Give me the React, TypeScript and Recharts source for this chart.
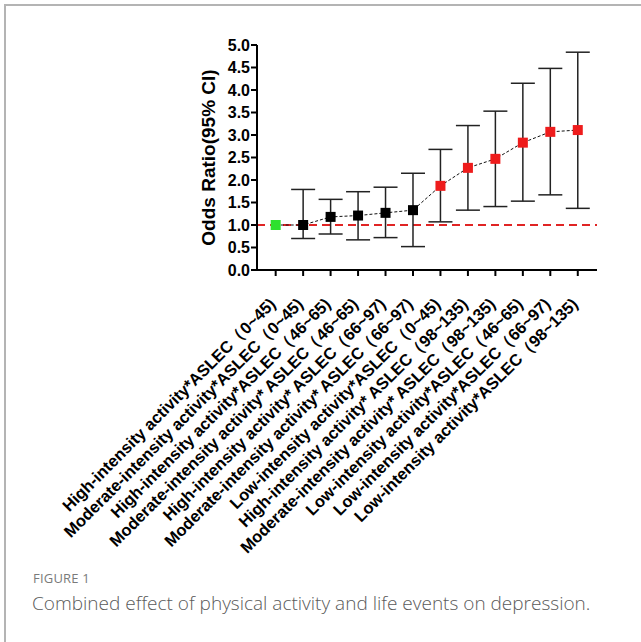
import React from "react"
import {
  ComposedChart,
  ErrorBar,
  Label,
  Line,
  ReferenceLine,
  XAxis,
  YAxis,
} from "recharts"

// groups in the order they appear on the x axis
const labels = [
  "High-intensity activity*ASLEC（0~45)",
  "Moderate-intensity activity*ASLEC（0~45)",
  "High-intensity activity*ASLEC（46~65)",
  "Moderate-intensity activity* ASLEC（46~65)",
  "High-intensity activity* ASLEC（66~97)",
  "Moderate-intensity activity* ASLEC（66~97)",
  "Low-intensity activity*ASLEC（0~45)",
  "High-intensity activity* ASLEC（98~135)",
  "Moderate-intensity activity* ASLEC（98~135)",
  "Low-intensity activity*ASLEC（46~65)",
  "Low-intensity activity*ASLEC（66~97)",
  "Low-intensity activity*ASLEC（98~135)",
]

const oddsRatio = [1.0, 1.0, 1.18, 1.21, 1.27, 1.33, 1.87, 2.27, 2.47, 2.83, 3.07, 3.11]
const ciLow = [null, 0.7, 0.8, 0.67, 0.72, 0.52, 1.07, 1.33, 1.41, 1.53, 1.67, 1.37]
const ciHigh = [null, 1.79, 1.57, 1.74, 1.84, 2.15, 2.68, 3.21, 3.53, 4.15, 4.48, 4.84]

const yTicks = [0, 0.5, 1, 1.5, 2, 2.5, 3, 3.5, 4, 4.5, 5]

const data = labels.map((label, i) => ({
  x: i,
  label,
  or: oddsRatio[i],
  err:
    ciLow[i] == null
      ? undefined
      : [oddsRatio[i] - (ciLow[i] as number), (ciHigh[i] as number) - oddsRatio[i]],
  lo: ciLow[i],
}))

// green = reference group, red = CI above 1, black = otherwise
const markerColor = (lo: number | null) => {
  if (lo == null) return "#2de12d"
  if (lo > 1) return "#ee1c1c"
  return "#000"
}

const XTick = ({ x, y, payload }: any) => (
  <text
    x={x + 1}
    y={y + 27}
    transform={`rotate(-45, ${x + 1}, ${y + 27})`}
    textAnchor="end"
    fontFamily="'Liberation Sans', Arial, sans-serif"
    fontWeight="bold"
    fontSize={16.5}
    fill="#000"
  >
    {labels[payload.value]}
  </text>
)

const Marker = (props: any) => {
  const { cx, cy, index, payload } = props
  return (
    <rect
      key={`m-${index}`}
      x={cx - 5}
      y={cy - 5}
      width={10}
      height={10}
      fill={markerColor(payload.lo)}
    />
  )
}

const YLabel = ({ viewBox }: any) => {
  const cx = viewBox.x + 28
  const cy = viewBox.y + viewBox.height / 2
  return (
    <text
      x={cx}
      y={cy}
      transform={`rotate(-90, ${cx}, ${cy})`}
      textAnchor="middle"
      dominantBaseline="central"
      fontFamily="'Liberation Sans', Arial, sans-serif"
      fontWeight="bold"
      fontSize={19}
      fill="#000"
    >
      Odds Ratio(95% CI)
    </text>
  )
}

export default function App() {
  return (
    <div
      style={{
        position: "absolute",
        left: 0,
        top: 0,
        width: 641,
        height: 642,
        background: "#fff",
        overflow: "hidden",
      }}
    >
      <div style={{ position: "absolute", left: 4, top: 4, right: 0, height: 2, background: "#b4b4b4" }} />
      <div style={{ position: "absolute", left: 4, top: 4, bottom: 0, width: 2, background: "#b4b4b4" }} />
      <div style={{ position: "absolute", left: 0, top: 0 }}>
        <ComposedChart
          width={641}
          height={560}
          data={data}
          margin={{ top: 45, right: 44, left: 180, bottom: 40 }}
        >
          <XAxis
            dataKey="x"
            type="number"
            domain={[-0.68, 11.7]}
            ticks={labels.map((_, i) => i)}
            interval={0}
            allowDataOverflow
            height={250}
            tick={<XTick />}
            tickSize={6}
            axisLine={{ stroke: "#000", strokeWidth: 2 }}
            tickLine={{ stroke: "#000", strokeWidth: 2 }}
          />
          <YAxis
            type="number"
            domain={[0, 5]}
            ticks={yTicks}
            interval={0}
            width={77}
            tickFormatter={(v: number) => v.toFixed(1)}
            tick={{
              fill: "#000",
              fontSize: 16,
              fontWeight: "bold",
              fontFamily: "'Liberation Sans', Arial, sans-serif",
            }}
            tickSize={6}
            tickMargin={1}
            axisLine={{ stroke: "#000", strokeWidth: 2 }}
            tickLine={{ stroke: "#000", strokeWidth: 2 }}
          >
            <Label content={<YLabel />} />
          </YAxis>
          <ReferenceLine
            y={1}
            stroke="#e02424"
            strokeWidth={2}
            strokeDasharray="8 5"
          />
          <Line
            dataKey="or"
            type="linear"
            stroke="#111"
            strokeWidth={1}
            strokeDasharray="3 2"
            dot={Marker}
            activeDot={false}
            isAnimationActive={false}
          >
            <ErrorBar
              dataKey="err"
              direction="y"
              width={12}
              stroke="#222"
              strokeWidth={1.5}
              isAnimationActive={false}
            />
          </Line>
        </ComposedChart>
      </div>
      <div
        style={{
          position: "absolute",
          left: 33,
          top: 569,
          fontFamily: "'Open Sans', sans-serif",
          fontSize: 13,
          color: "#7a7a7a",
          letterSpacing: 0.2,
        }}
      >
        FIGURE 1
      </div>
      <div
        style={{
          position: "absolute",
          left: 32,
          top: 590,
          fontFamily: "'Open Sans', sans-serif",
          fontSize: 19,
          fontWeight: 300,
          color: "#5a5a5a",
          whiteSpace: "nowrap",
        }}
      >
        Combined effect of physical activity and life events on depression.
      </div>
    </div>
  )
}
